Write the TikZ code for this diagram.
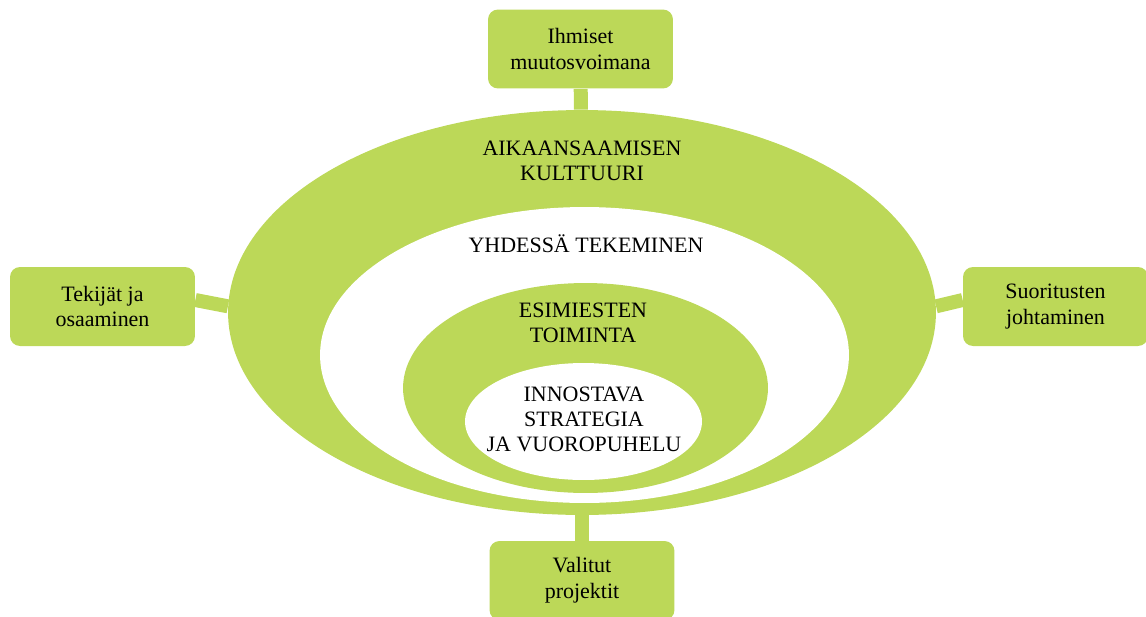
\documentclass[tikz,border=0pt]{standalone}
\usepackage{fontspec}
\setmainfont{Liberation Serif}
\usetikzlibrary{shapes.geometric,backgrounds}
\definecolor{leafgreen}{RGB}{188,216,88}

\begin{document}
\begin{tikzpicture}[x=0.02cm,y=-0.02cm,
    ring/.style={ellipse,inner sep=0pt},
    ringtext/.style={align=center,font=\fontsize{12.5}{14.2}\selectfont},
    topic/.style={fill=leafgreen,rounded corners=0.2cm,minimum width=3.7cm,minimum height=1.58cm,
      align=center,font=\fontsize{12.5}{14.7}\selectfont},
    link/.style={leafgreen,line width=0.28cm}]
  \useasboundingbox (0,0) rectangle (1146,616);
  % rings, outermost first
  \node[ring,fill=leafgreen,minimum width=14.16cm,minimum height=8.1cm] (outer) at (582,312.5) {};
  \node[ring,fill=white,minimum width=10.58cm,minimum height=5.92cm] (middle) at (584.5,355) {};
  \node[ring,fill=leafgreen,minimum width=7.3cm,minimum height=4.2cm] (inner) at (585.5,388) {};
  \node[ring,fill=white,minimum width=4.74cm,minimum height=2.34cm] (core) at (583.5,421.5) {};
  \node[ringtext] (culture) at (582,161) {AIKAANSAAMISEN\\KULTTUURI};
  \node[ringtext] (together) at (586,244) {YHDESSÄ TEKEMINEN};
  \node[ringtext] (leaders) at (583,323) {ESIMIESTEN\\TOIMINTA};
  \node[ringtext] (strategy) at (584,419.5) {INNOSTAVA\\STRATEGIA\\JA VUOROPUHELU};
  % outer boxes
  \node[topic] (people) at (580.5,49) {Ihmiset\\muutosvoimana};
  \node[topic] (skills) at (102.5,306.5) {Tekijät ja\\osaaminen};
  \node[topic] (results) at (1055.5,306.5) {Suoritusten\\johtaminen};
  \node[topic] (projects) at (582,580.5) {Valitut\\projektit};
  \begin{scope}[on background layer]
    \draw[link] (people) -- (outer);
    \draw[link] (skills.4) -- (outer.179);
    \draw[link] (results.176) -- (outer.1);
    \draw[link] (projects) -- (outer);
  \end{scope}
\end{tikzpicture}
\end{document}
